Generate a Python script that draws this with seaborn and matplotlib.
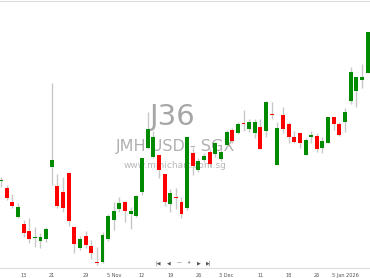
import numpy as np
import pandas as pd
import matplotlib
matplotlib.use("Agg")
import matplotlib.pyplot as plt
import seaborn as sns

# ---- data (JMH USD, SGX daily candles, 7 Oct 2025 - 9 Jan 2026) ----
opens = [60.95, 60.60, 59.90, 59.15, 58.80, 58.45, 58.10, 57.95, 58.05, 61.65,
         60.70, 60.40, 61.35, 58.65, 57.60, 58.20, 57.70, 56.88, 56.90, 58.05,
         59.00, 59.55, 59.90, 59.30, 59.20, 60.40, 62.60, 62.15, 62.25, 61.30,
         59.80, 60.15, 59.90, 59.60, 62.35, 61.50, 62.00, 62.40, 62.30, 62.05,
         62.75, 63.50, 63.35, 63.85, 63.55, 63.35, 63.65, 63.45, 64.30, 61.75,
         64.25, 63.80, 63.15, 63.35, 62.25, 63.15, 63.20, 62.60, 62.85, 64.15,
         63.80, 63.90, 64.95, 65.45, 66.00, 66.35]
highs = [61.15, 60.75, 60.30, 59.85, 59.00, 59.10, 58.65, 58.35, 58.65, 65.85,
         61.30, 61.15, 61.35, 58.65, 58.20, 58.45, 58.00, 57.65, 58.40, 59.30,
         59.90, 60.15, 59.95, 59.65, 60.25, 62.10, 64.40, 63.45, 62.25, 61.30,
         60.55, 60.60, 60.15, 63.15, 62.60, 62.10, 62.35, 62.55, 62.90, 62.55,
         63.50, 63.60, 63.90, 64.50, 64.05, 64.05, 64.05, 64.95, 64.90, 63.90,
         64.65, 63.90, 63.45, 63.40, 63.10, 63.45, 63.35, 63.15, 64.15, 64.15,
         63.90, 64.60, 66.65, 66.15, 66.80, 68.40]
lows = [60.65, 60.00, 59.60, 59.10, 58.15, 57.85, 57.65, 57.60, 57.90, 60.75,
        59.60, 59.40, 58.70, 57.35, 57.50, 57.60, 57.05, 56.75, 56.85, 57.95,
        58.50, 59.40, 58.90, 58.55, 59.15, 60.25, 62.55, 62.10, 61.10, 59.70,
        59.40, 59.55, 59.10, 59.50, 61.25, 61.40, 61.90, 61.65, 62.15, 61.95,
        62.65, 62.85, 63.30, 63.45, 63.40, 63.10, 62.55, 63.15, 64.05, 61.75,
        63.35, 62.85, 62.85, 62.60, 62.25, 62.85, 62.40, 62.35, 62.85, 63.50,
        63.20, 63.40, 64.80, 64.65, 65.60, 66.35]
closes = [61.00, 60.10, 59.70, 59.65, 58.35, 58.05, 58.15, 58.15, 58.55, 62.00,
          59.70, 59.60, 58.95, 57.80, 58.05, 57.75, 57.35, 56.83, 58.25, 59.20,
          59.45, 59.85, 59.45, 59.45, 60.20, 62.10, 63.55, 63.15, 61.50, 59.90,
          60.35, 60.10, 59.30, 63.15, 61.70, 61.95, 62.20, 61.80, 62.85, 62.40,
          63.40, 62.95, 63.80, 63.80, 63.90, 63.90, 62.55, 64.90, 64.25, 63.60,
          63.55, 63.15, 62.90, 62.85, 63.00, 63.25, 62.55, 62.95, 64.15, 63.80,
          63.25, 64.40, 66.40, 66.15, 66.15, 68.40]
tick_index = [4, 9, 15, 20, 25, 30, 35, 40, 46, 51, 56, 61]
tick_labels = ["13", "21", "29", "5 Nov", "12", "19", "26", "3 Dec",
               "11", "18", "26", "5 Jan 2026"]

df = pd.DataFrame({"open": opens, "high": highs, "low": lows, "close": closes})
df["idx"] = np.arange(len(df))
df["up"] = df["close"] >= df["open"]
df["bottom"] = df[["open", "close"]].min(axis=1)
df["height"] = (df["close"] - df["open"]).abs().clip(lower=0.05)

sns.set_theme(style="white")
plt.rcParams["font.family"] = ["DejaVu Sans"]

fig = plt.figure(figsize=(3.7, 2.78), dpi=100)
ax = fig.add_axes([0, 10 / 278, 1, 268 / 278])

# watermark
ax.text(172 / 370, 1 - 117 / 278, "J36", transform=fig.transFigure,
        ha="center", va="center", fontsize=21, color="#a6a6a6", zorder=0)
ax.text(176 / 370, 1 - 147 / 278, "JMH USD - SGX", transform=fig.transFigure,
        ha="center", va="center", fontsize=11.5, color="#b0b0b0", zorder=0)
ax.text(175.5 / 370, 1 - 165.5 / 278, "www.minichart.com.sg", transform=fig.transFigure,
        ha="center", va="center", fontsize=6.5, color="#b8b8b8", zorder=0)

# wicks
ax.vlines(df["idx"], df["low"], df["high"], color="#c8c8c8", lw=1.0, zorder=2)
# bodies
colors = np.where(df["up"], "#008a00", "#ff0000")
ax.bar(df["idx"], df["height"], bottom=df["bottom"], width=0.7,
       color=colors, edgecolor="none", zorder=3)

ax.set_xlim(-0.18, 65.43)
ax.set_ylim(56.6, 70.0)
ax.set_yticks([])
ax.set_xticks(tick_index)
ax.set_xticklabels(tick_labels, fontsize=3.6, color="#555555")
ax.tick_params(axis="x", length=2, width=0.5, color="#aaaaaa", pad=1.5)
sns.despine(ax=ax, left=True, right=True, top=True)
ax.spines["bottom"].set_color("#dddddd")
ax.spines["bottom"].set_linewidth(0.8)
ax.grid(False)
ax.set_facecolor("white")

# top border line
fig.add_artist(plt.Line2D([0, 1], [1 - 0.5 / 278, 1 - 0.5 / 278],
                          transform=fig.transFigure, color="#dddddd", lw=0.8))

# navigation controls
nav_x = [158, 169, 179, 189, 199, 209]
nav_s = ["|◀", "◀", "—", "+", "▶", "▶|"]
for nx, ns in zip(nav_x, nav_s):
    fig.text(nx / 370, 1 - 263 / 278, ns, ha="center", va="center",
             fontsize=3.5, color="#555555")

fig.savefig("out.png", dpi=100)
